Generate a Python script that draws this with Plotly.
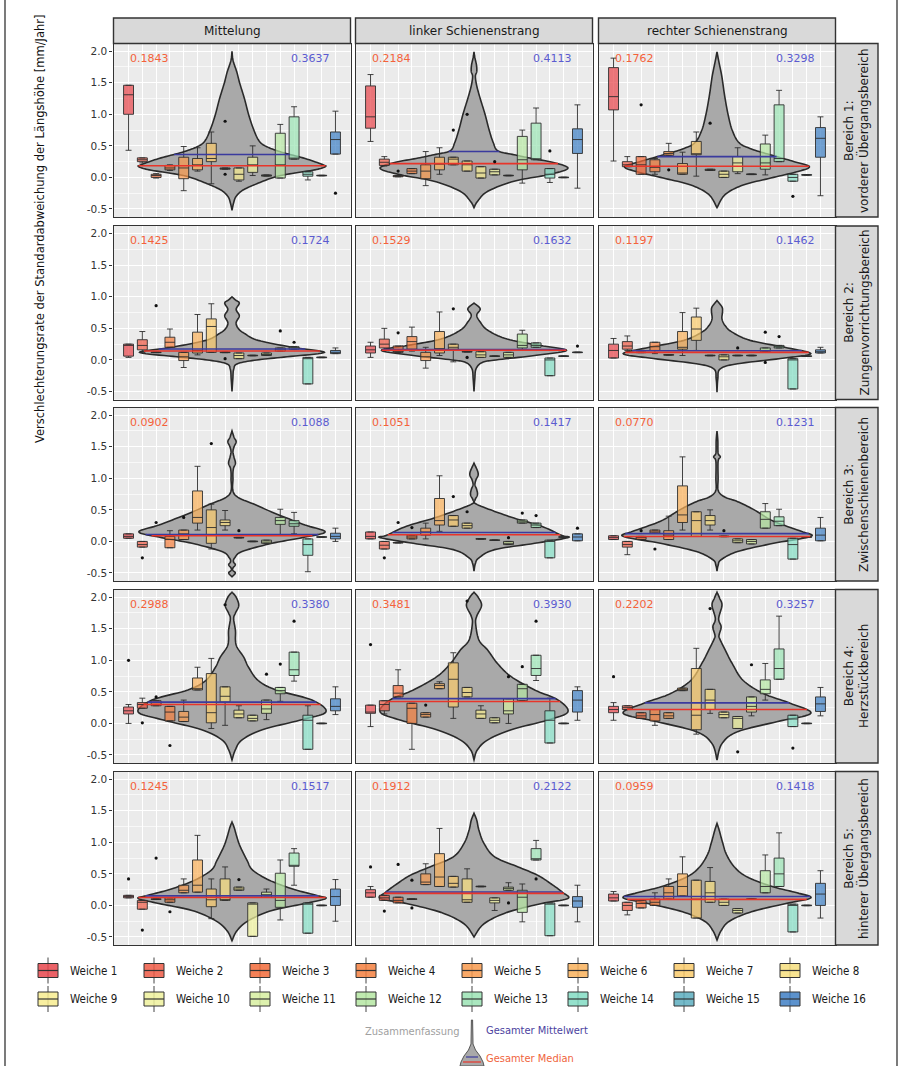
import numpy as np
import plotly.graph_objects as go

FIG_W, FIG_H = 904, 1066

SPALTEN = ["Mittelung", "linker Schienenstrang", "rechter Schienenstrang"]
BEREICHE = [
    ("Bereich 1:", "vorderer Übergangsbereich"),
    ("Bereich 2:", "Zungenvorrichtungsbereich"),
    ("Bereich 3:", "Zwischenschienenbereich"),
    ("Bereich 4:", "Herzstückbereich"),
    ("Bereich 5:", "hinterer Übergangsbereich"),
]
WEICHEN = [f"Weiche {i}" for i in range(1, 17)]
FARBEN = [
    "#E8474C", "#EE5A45", "#F26B3A", "#F4803F", "#F89A4E", "#F9B25C",
    "#FACB6C", "#F6DE7E", "#F7EC8F", "#EEF19C", "#D7EEA0", "#B5E6A2",
    "#9BE3B4", "#83DCC3", "#5DAEBF", "#3F7FC4",
]

# Gesamter Median / Gesamter Mittelwert je Bereich (Zeile) und Spalte
MEDIAN_GESAMT = [
    [0.1843, 0.2184, 0.1762],
    [0.1425, 0.1529, 0.1197],
    [0.0902, 0.1051, 0.0770],
    [0.2988, 0.3481, 0.2202],
    [0.1245, 0.1912, 0.0959],
]
MITTEL_GESAMT = [
    [0.3637, 0.4113, 0.3298],
    [0.1724, 0.1632, 0.1462],
    [0.1088, 0.1417, 0.1231],
    [0.3380, 0.3930, 0.3257],
    [0.1517, 0.2122, 0.1418],
]

# Boxplot-Kennwerte je Weiche: (unterer Whisker, Q1, Median, Q3, oberer Whisker)
B1_MIT = [
    (0.43, 1.00, 1.31, 1.46, 1.46), (0.23, 0.25, 0.28, 0.31, 0.31),
    (-0.01, 0.00, 0.03, 0.05, 0.06), (0.11, 0.12, 0.15, 0.19, 0.20),
    (-0.21, -0.02, 0.15, 0.32, 0.49), (0.10, 0.12, 0.20, 0.30, 0.47),
    (-0.10, 0.25, 0.30, 0.54, 0.72), (0.13, 0.13, 0.14, 0.15, 0.15),
    (-0.06, -0.04, 0.05, 0.15, 0.15), (0.03, 0.08, 0.20, 0.32, 0.50),
    (0.02, 0.02, 0.03, 0.04, 0.04), (-0.01, -0.01, 0.20, 0.70, 0.84),
    (0.29, 0.29, 0.30, 0.96, 1.12), (-0.04, 0.02, 0.05, 0.09, 0.09),
    (0.025, 0.025, 0.03, 0.035, 0.035), (0.37, 0.37, 0.60, 0.72, 1.05),
]
B1_LINKS = [
    (0.57, 0.78, 0.96, 1.45, 1.63), (0.18, 0.19, 0.24, 0.29, 0.33),
    (0.01, 0.01, 0.02, 0.03, 0.03), (0.06, 0.06, 0.10, 0.14, 0.14),
    (-0.13, -0.02, 0.10, 0.20, 0.41), (0.05, 0.12, 0.21, 0.32, 0.47),
    (0.20, 0.20, 0.29, 0.32, 0.32), (0.10, 0.10, 0.20, 0.26, 0.26),
    (-0.01, -0.01, 0.07, 0.17, 0.17), (0.04, 0.04, 0.09, 0.13, 0.13),
    (0.025, 0.025, 0.03, 0.035, 0.035), (-0.09, 0.12, 0.28, 0.65, 0.75),
    (0.28, 0.28, 0.29, 0.86, 1.10), (-0.08, -0.01, 0.05, 0.14, 0.14),
    (-0.005, -0.005, 0.0, 0.005, 0.005), (-0.17, 0.38, 0.60, 0.77, 1.15),
]
B1_RECHTS = [
    (0.26, 1.07, 1.28, 1.74, 1.89), (0.17, 0.17, 0.20, 0.25, 0.33),
    (0.05, 0.05, 0.20, 0.33, 0.33), (0.05, 0.09, 0.16, 0.28, 0.30),
    (0.35, 0.35, 0.38, 0.41, 0.54), (0.05, 0.05, 0.07, 0.22, 0.40),
    (0.02, 0.36, 0.36, 0.57, 0.72), (0.11, 0.11, 0.12, 0.13, 0.13),
    (0.0, 0.0, 0.05, 0.10, 0.10), (0.06, 0.09, 0.23, 0.33, 0.47),
    (0.045, 0.045, 0.05, 0.055, 0.055), (0.04, 0.13, 0.23, 0.53, 0.67),
    (0.25, 0.25, 0.30, 1.15, 1.38), (-0.06, -0.06, 0.0, 0.05, 0.05),
    (0.035, 0.035, 0.04, 0.045, 0.045), (-0.29, 0.32, 0.62, 0.79, 0.96),
]
B2_MIT = [
    (0.04, 0.06, 0.23, 0.25, 0.25), (0.12, 0.16, 0.23, 0.32, 0.45),
    (0.115, 0.115, 0.12, 0.125, 0.125), (0.20, 0.20, 0.28, 0.36, 0.49),
    (-0.12, -0.01, 0.05, 0.12, 0.12), (0.08, 0.11, 0.15, 0.44, 0.72),
    (0.12, 0.12, 0.53, 0.65, 0.89), (0.115, 0.115, 0.12, 0.125, 0.125),
    (0.02, 0.02, 0.07, 0.11, 0.11), (0.065, 0.065, 0.07, 0.075, 0.075),
    (0.07, 0.07, 0.08, 0.11, 0.11), (0.14, 0.14, 0.17, 0.19, 0.19),
    (0.17, 0.17, 0.20, 0.21, 0.21), (-0.38, -0.38, 0.02, 0.04, 0.04),
    (0.035, 0.035, 0.04, 0.045, 0.045), (0.10, 0.10, 0.12, 0.15, 0.19),
]
B2_LINKS = [
    (0.04, 0.11, 0.16, 0.22, 0.28), (0.16, 0.19, 0.25, 0.33, 0.50),
    (0.12, 0.12, 0.13, 0.22, 0.22), (0.14, 0.17, 0.29, 0.37, 0.52),
    (-0.13, -0.01, 0.05, 0.12, 0.20), (0.07, 0.11, 0.18, 0.45, 0.76),
    (-0.03, 0.17, 0.20, 0.25, 0.25), (0.125, 0.125, 0.13, 0.135, 0.135),
    (0.04, 0.04, 0.08, 0.13, 0.13), (0.055, 0.055, 0.06, 0.065, 0.065),
    (0.04, 0.04, 0.08, 0.12, 0.12), (0.15, 0.19, 0.23, 0.41, 0.47),
    (0.20, 0.20, 0.23, 0.27, 0.27), (-0.25, -0.25, 0.0, 0.03, 0.03),
    (0.055, 0.055, 0.06, 0.065, 0.065), (0.115, 0.115, 0.12, 0.125, 0.125),
]
B2_RECHTS = [
    (0.03, 0.03, 0.15, 0.25, 0.34), (0.15, 0.17, 0.22, 0.29, 0.38),
    (0.115, 0.115, 0.12, 0.125, 0.125), (0.10, 0.15, 0.21, 0.28, 0.28),
    (0.075, 0.075, 0.08, 0.085, 0.085), (0.07, 0.17, 0.20, 0.45, 0.75),
    (0.15, 0.31, 0.49, 0.68, 0.82), (0.065, 0.065, 0.07, 0.075, 0.075),
    (0.0, 0.0, 0.05, 0.08, 0.08), (0.065, 0.065, 0.07, 0.075, 0.075),
    (0.065, 0.065, 0.07, 0.075, 0.075), (0.13, 0.13, 0.15, 0.19, 0.19),
    (0.19, 0.19, 0.21, 0.23, 0.23), (-0.46, -0.46, 0.0, 0.02, 0.02),
    (0.055, 0.055, 0.06, 0.065, 0.065), (0.11, 0.11, 0.13, 0.16, 0.20),
]
B3_MIT = [
    (0.05, 0.05, 0.08, 0.12, 0.12), (-0.09, -0.09, -0.05, 0.0, 0.0),
    (0.095, 0.095, 0.10, 0.105, 0.105), (-0.10, -0.10, 0.03, 0.08, 0.17),
    (0.03, 0.03, 0.12, 0.18, 0.18), (0.18, 0.29, 0.38, 0.80, 1.19),
    (-0.12, -0.03, 0.22, 0.50, 0.59), (0.18, 0.25, 0.30, 0.34, 0.49),
    (0.055, 0.055, 0.06, 0.065, 0.065), (-0.005, -0.005, 0.0, 0.005, 0.005),
    (-0.03, -0.03, -0.01, 0.02, 0.02), (0.10, 0.27, 0.33, 0.38, 0.51),
    (0.12, 0.24, 0.28, 0.33, 0.46), (-0.48, -0.22, -0.05, 0.04, 0.04),
    (0.065, 0.065, 0.07, 0.075, 0.075), (0.0, 0.04, 0.08, 0.13, 0.21),
]
B3_LINKS = [
    (0.04, 0.04, 0.08, 0.15, 0.15), (-0.12, -0.12, -0.06, 0.0, 0.0),
    (-0.025, -0.025, -0.02, -0.015, -0.015), (0.04, 0.04, 0.07, 0.10, 0.10),
    (0.04, 0.10, 0.15, 0.21, 0.29), (0.16, 0.26, 0.33, 0.68, 1.04),
    (0.24, 0.24, 0.34, 0.41, 0.41), (0.21, 0.21, 0.25, 0.29, 0.29),
    (0.035, 0.035, 0.04, 0.045, 0.045), (0.015, 0.015, 0.02, 0.025, 0.025),
    (-0.05, -0.05, -0.03, 0.0, 0.0), (0.29, 0.29, 0.31, 0.34, 0.34),
    (0.22, 0.22, 0.26, 0.29, 0.29), (-0.26, -0.26, 0.0, 0.02, 0.02),
    (0.065, 0.065, 0.07, 0.075, 0.075), (0.01, 0.01, 0.07, 0.12, 0.12),
]
B3_RECHTS = [
    (0.03, 0.03, 0.06, 0.09, 0.09), (-0.21, -0.09, -0.05, 0.0, 0.0),
    (0.03, 0.03, 0.06, 0.08, 0.08), (0.13, 0.13, 0.15, 0.18, 0.18),
    (0.03, 0.03, 0.10, 0.17, 0.40), (0.18, 0.30, 0.42, 0.88, 1.34),
    (0.08, 0.08, 0.33, 0.47, 0.47), (0.18, 0.26, 0.33, 0.41, 0.50),
    (0.075, 0.075, 0.08, 0.085, 0.085), (-0.02, -0.02, 0.01, 0.04, 0.04),
    (-0.04, -0.04, 0.0, 0.03, 0.03), (0.21, 0.21, 0.35, 0.47, 0.60),
    (0.25, 0.25, 0.32, 0.39, 0.51), (-0.28, -0.28, -0.05, 0.05, 0.05),
    (0.065, 0.065, 0.07, 0.075, 0.075), (0.01, 0.01, 0.10, 0.21, 0.38),
]
B4_MIT = [
    (0.0, 0.15, 0.20, 0.26, 0.30), (0.24, 0.24, 0.30, 0.33, 0.40),
    (0.28, 0.28, 0.33, 0.36, 0.36), (0.04, 0.04, 0.18, 0.27, 0.27),
    (0.03, 0.03, 0.10, 0.19, 0.37), (0.53, 0.53, 0.55, 0.72, 0.89),
    (-0.08, 0.01, 0.17, 0.79, 1.03), (-0.03, 0.34, 0.43, 0.58, 0.58),
    (0.09, 0.09, 0.15, 0.21, 0.28), (0.04, 0.04, 0.08, 0.13, 0.13),
    (0.06, 0.16, 0.23, 0.37, 0.37), (0.35, 0.47, 0.52, 0.57, 0.57),
    (0.67, 0.76, 0.85, 1.13, 1.13), (-0.41, -0.41, 0.05, 0.13, 0.28),
    (-0.005, -0.005, 0.0, 0.005, 0.005), (0.14, 0.20, 0.27, 0.39, 0.58),
]
B4_LINKS = [
    (-0.05, 0.16, 0.18, 0.29, 0.29), (0.15, 0.20, 0.30, 0.36, 0.36),
    (0.42, 0.42, 0.48, 0.60, 0.85), (-0.41, 0.0, 0.24, 0.32, 0.32),
    (0.10, 0.10, 0.14, 0.17, 0.17), (0.55, 0.55, 0.60, 0.63, 0.66),
    (0.08, 0.26, 0.70, 0.96, 1.12), (0.42, 0.42, 0.49, 0.57, 0.57),
    (0.08, 0.08, 0.15, 0.21, 0.28), (0.01, 0.01, 0.05, 0.09, 0.09),
    (0.0, 0.15, 0.20, 0.39, 0.39), (0.36, 0.36, 0.55, 0.62, 0.62),
    (0.68, 0.76, 0.87, 1.08, 1.08), (-0.31, -0.31, 0.05, 0.20, 0.40),
    (-0.005, -0.005, 0.0, 0.005, 0.005), (0.05, 0.18, 0.37, 0.52, 0.58),
]
B4_RECHTS = [
    (0.05, 0.17, 0.22, 0.27, 0.33), (0.22, 0.22, 0.25, 0.28, 0.28),
    (0.08, 0.08, 0.12, 0.17, 0.17), (-0.03, 0.04, 0.14, 0.22, 0.22),
    (0.08, 0.08, 0.12, 0.17, 0.17), (0.52, 0.52, 0.54, 0.56, 0.56),
    (-0.17, -0.10, 0.13, 0.87, 1.19), (0.16, 0.22, 0.37, 0.54, 0.54),
    (0.09, 0.09, 0.14, 0.18, 0.18), (-0.08, -0.08, 0.08, 0.11, 0.11),
    (0.12, 0.18, 0.27, 0.42, 0.42), (0.37, 0.47, 0.54, 0.69, 0.95),
    (0.70, 0.70, 0.87, 1.18, 1.70), (-0.05, -0.05, 0.07, 0.13, 0.13),
    (-0.005, -0.005, 0.0, 0.005, 0.005), (0.12, 0.19, 0.31, 0.42, 0.57),
]
B5_MIT = [
    (0.12, 0.12, 0.14, 0.16, 0.16), (-0.06, -0.06, 0.05, 0.08, 0.08),
    (0.095, 0.095, 0.10, 0.105, 0.105), (0.05, 0.05, 0.09, 0.12, 0.12),
    (0.20, 0.20, 0.24, 0.32, 0.42), (0.21, 0.21, 0.32, 0.72, 1.11),
    (-0.21, -0.02, 0.09, 0.26, 0.42), (0.08, 0.08, 0.09, 0.42, 0.61),
    (0.24, 0.24, 0.26, 0.29, 0.29), (-0.49, -0.49, 0.02, 0.04, 0.04),
    (0.13, 0.13, 0.17, 0.21, 0.26), (-0.23, -0.03, 0.08, 0.51, 0.72),
    (0.32, 0.62, 0.63, 0.83, 0.90), (-0.44, -0.44, 0.02, 0.04, 0.04),
    (-0.005, -0.005, 0.0, 0.005, 0.005), (-0.25, 0.0, 0.14, 0.26, 0.41),
]
B5_LINKS = [
    (0.13, 0.13, 0.20, 0.25, 0.30), (0.08, 0.08, 0.12, 0.16, 0.16),
    (0.04, 0.04, 0.08, 0.13, 0.13), (0.095, 0.095, 0.10, 0.105, 0.105),
    (0.33, 0.33, 0.37, 0.50, 0.66), (0.30, 0.30, 0.45, 0.82, 1.22),
    (0.29, 0.29, 0.35, 0.46, 0.46), (0.05, 0.05, 0.09, 0.42, 0.58),
    (0.295, 0.295, 0.30, 0.305, 0.305), (-0.08, 0.04, 0.08, 0.12, 0.12),
    (0.24, 0.24, 0.27, 0.29, 0.36), (-0.26, -0.11, 0.13, 0.24, 0.34),
    (0.72, 0.72, 0.74, 0.90, 1.03), (-0.48, -0.48, 0.02, 0.04, 0.04),
    (-0.005, -0.005, 0.0, 0.005, 0.005), (-0.26, -0.03, 0.07, 0.14, 0.32),
]
B5_RECHTS = [
    (0.07, 0.07, 0.12, 0.18, 0.22), (-0.15, -0.08, 0.0, 0.05, 0.05),
    (-0.04, -0.04, 0.03, 0.08, 0.08), (0.0, 0.0, 0.05, 0.10, 0.20),
    (0.10, 0.10, 0.20, 0.30, 0.42), (0.15, 0.15, 0.30, 0.50, 0.77),
    (-0.20, -0.20, 0.10, 0.40, 0.40), (0.05, 0.05, 0.20, 0.38, 0.60),
    (0.0, 0.0, 0.05, 0.10, 0.10), (-0.12, -0.12, -0.08, -0.05, -0.05),
    (0.095, 0.095, 0.10, 0.105, 0.105), (0.20, 0.20, 0.30, 0.55, 0.80),
    (0.30, 0.30, 0.50, 0.75, 1.15), (-0.42, -0.42, 0.0, 0.02, 0.02),
    (-0.005, -0.005, 0.0, 0.005, 0.005), (-0.20, 0.0, 0.18, 0.35, 0.55),
]

# Ausreißer: (Weiche, Wert)
A1_MIT = [(8, 0.89), (8, 0.05), (16, -0.25)]
A1_LINKS = [(3, 0.10), (7, 0.75), (8, 1.00), (10, 0.25), (14, 0.42)]
A1_RECHTS = [(3, 1.15), (5, 0.12), (8, 0.86), (14, -0.30)]
A2_MIT = [(3, 0.86), (8, 0.02), (12, 0.46), (13, 0.28)]
A2_LINKS = [(3, 0.43), (7, 0.81), (8, 0.04), (16, 0.22)]
A2_RECHTS = [(10, 0.19), (12, 0.44), (12, -0.04), (13, 0.37)]
A3_MIT = [(2, -0.26), (3, 0.30), (5, 0.38), (7, 1.55), (9, 0.17)]
A3_LINKS = [(2, -0.26), (3, 0.30), (4, 0.22), (7, 0.71), (8, 0.47),
            (11, 0.06), (12, 0.45), (13, 0.41), (16, 0.21)]
A3_RECHTS = [(3, 0.17), (4, -0.12), (9, 0.17)]
A4_MIT = [(1, 1.0), (2, 0.01), (3, 0.42), (4, -0.35), (8, 1.88),
          (11, 0.78), (12, 0.94), (13, 1.62)]
A4_LINKS = [(1, 1.25), (5, 0.29), (8, 1.94), (11, 0.74), (12, 0.90), (13, 1.62)]
A4_RECHTS = [(1, 0.74), (8, 1.82), (10, -0.45), (11, 0.93), (14, -0.39)]
A5_MIT = [(1, 0.42), (2, -0.39), (3, 0.75), (4, -0.10), (9, 0.41)]
A5_LINKS = [(1, 0.61), (2, -0.09), (3, 0.65), (4, 0.40), (4, -0.04),
            (11, 0.04), (13, 0.42)]
A5_RECHTS = []

# Zusammenfassung (Violine): (Wert, halbe Breite in Weichen-Einheiten)
V1_MIT = [(2.0, 0), (1.85, 0.08), (1.67, 0.35), (1.5, 0.55), (1.25, 0.9),
          (1.0, 1.2), (0.8, 1.5), (0.6, 1.9), (0.5, 2.4), (0.4, 3.6),
          (0.3, 5.3), (0.2, 6.6), (0.17, 6.75), (0.12, 6.0), (0.05, 4.0),
          (0.0, 3.0), (-0.1, 1.8), (-0.2, 0.8), (-0.3, 0.3), (-0.4, 0.12),
          (-0.52, 0)]
V1_LINKS = [(1.99, 0), (1.9, 0.06), (1.78, 0.18), (1.68, 0.2), (1.6, 0.1),
            (1.45, 0.2), (1.25, 0.45), (1.0, 0.8), (0.75, 1.1), (0.55, 1.4),
            (0.42, 1.75), (0.36, 2.9), (0.3, 4.2), (0.23, 5.9), (0.14, 6.8),
            (0.04, 5.3), (-0.06, 2.9), (-0.22, 1.0), (-0.38, 0.25), (-0.48, 0)]
V1_RECHTS = [(1.99, 0), (1.85, 0.12), (1.6, 0.35), (1.3, 0.55), (1.0, 0.8),
             (0.75, 1.1), (0.55, 1.6), (0.45, 2.5), (0.35, 4.0), (0.25, 5.6),
             (0.17, 6.7), (0.09, 5.8), (-0.01, 3.9), (-0.12, 1.9),
             (-0.27, 0.6), (-0.48, 0)]
V2_MIT = [(1.0, 0), (0.95, 0.25), (0.9, 0.53), (0.8, 0.3), (0.7, 0.53),
          (0.59, 0.3), (0.5, 0.45), (0.42, 0.9), (0.31, 1.9), (0.2, 4.4),
          (0.12, 6.7), (0.05, 4.0), (0.0, 1.8), (-0.06, 0.4), (-0.15, 0.12),
          (-0.3, 0.06), (-0.5, 0)]
V2_LINKS = [(0.9, 0), (0.81, 0.45), (0.71, 0.2), (0.6, 0.45), (0.47, 1.0),
            (0.33, 2.4), (0.23, 4.8), (0.15, 6.7), (0.07, 4.4), (0.0, 1.6),
            (-0.04, 0.6), (-0.14, 0.15), (-0.3, 0.06), (-0.5, 0)]
V2_RECHTS = [(0.94, 0), (0.84, 0.36), (0.76, 0.4), (0.65, 0.36), (0.54, 0.6),
             (0.44, 1.1), (0.31, 2.4), (0.2, 4.9), (0.1, 6.8), (0.03, 4.9),
             (-0.06, 1.5), (-0.14, 0.24), (-0.3, 0.06), (-0.51, 0)]
V3_MIT = [(1.75, 0), (1.65, 0.15), (1.58, 0.3), (1.5, 0.15), (1.42, 0.07),
          (1.33, 0.15), (1.24, 0.25), (1.15, 0.1), (1.0, 0.07), (0.74, 0.2),
          (0.58, 1.7), (0.42, 3.4), (0.26, 5.3), (0.15, 6.75), (0.06, 5.1),
          (-0.03, 2.9), (-0.16, 0.73), (-0.26, 0.2), (-0.32, 0.1),
          (-0.37, 0.24), (-0.42, 0.07), (-0.46, 0.07), (-0.5, 0.24),
          (-0.56, 0)]
V3_LINKS = [(1.24, 0), (1.12, 0.25), (1.05, 0.3), (0.98, 0.15), (0.9, 0.07),
            (0.82, 0.2), (0.74, 0.25), (0.66, 0.08), (0.6, 0.1), (0.5, 1.2),
            (0.37, 2.9), (0.24, 4.9), (0.1, 6.3), (0.06, 6.8), (-0.03, 4.4),
            (-0.13, 1.5), (-0.26, 0.36), (-0.35, 0.1), (-0.47, 0)]
V3_RECHTS = [(1.75, 0), (1.6, 0.06), (1.4, 0.08), (1.34, 0.24), (1.27, 0.08),
             (1.0, 0.08), (0.8, 0.1), (0.7, 0.6), (0.63, 1.5), (0.5, 2.7),
             (0.32, 4.1), (0.16, 6.1), (0.08, 6.8), (-0.03, 4.1),
             (-0.16, 1.5), (-0.29, 0.3), (-0.38, 0.08), (-0.47, 0)]
V4_MIT = [(2.08, 0), (2.0, 0.3), (1.87, 0.49), (1.75, 0.25), (1.66, 0.12),
          (1.47, 0.25), (1.32, 0.25), (1.21, 0.36), (1.05, 0.85), (0.89, 1.2),
          (0.68, 1.9), (0.53, 3.2), (0.37, 5.8), (0.18, 6.8), (0.05, 4.9),
          (-0.1, 2.2), (-0.26, 0.73), (-0.42, 0.24), (-0.58, 0)]
V4_LINKS = [(2.08, 0), (2.0, 0.3), (1.87, 0.55), (1.7, 0.2), (1.58, 0.12),
            (1.32, 0.36), (1.16, 1.0), (0.95, 1.7), (0.74, 2.7), (0.53, 4.4),
            (0.37, 6.1), (0.18, 6.8), (0.05, 5.3), (-0.1, 2.7), (-0.26, 1.0),
            (-0.42, 0.24), (-0.58, 0)]
V4_RECHTS = [(2.08, 0), (1.98, 0.2), (1.87, 0.36), (1.66, 0.12), (1.53, 0.3),
             (1.4, 0.15), (1.34, 0.2), (1.16, 0.6), (0.95, 1.1), (0.68, 1.9),
             (0.47, 3.4), (0.32, 5.3), (0.16, 6.8), (0.03, 4.4), (-0.13, 1.5),
             (-0.32, 0.36), (-0.58, 0)]
V5_MIT = [(1.32, 0), (1.24, 0.15), (1.08, 0.36), (0.93, 0.6), (0.71, 1.1),
          (0.56, 1.5), (0.4, 2.7), (0.26, 4.4), (0.16, 6.1), (0.11, 6.8),
          (0.03, 5.3), (-0.08, 2.9), (-0.24, 1.2), (-0.4, 0.36), (-0.56, 0)]
V5_LINKS = [(1.46, 0), (1.35, 0.2), (1.19, 0.36), (0.98, 0.73), (0.77, 1.5),
            (0.61, 3.2), (0.48, 4.6), (0.34, 5.6), (0.21, 6.4), (0.11, 6.8),
            (0.03, 4.9), (-0.11, 2.4), (-0.29, 0.73), (-0.5, 0)]
V5_RECHTS = [(1.3, 0), (1.2, 0.15), (1.0, 0.4), (0.8, 0.7), (0.6, 1.3),
             (0.45, 2.2), (0.3, 4.0), (0.2, 5.8), (0.12, 6.8), (0.03, 5.0),
             (-0.1, 2.5), (-0.25, 0.9), (-0.4, 0.3), (-0.55, 0)]

BOXEN = [[B1_MIT, B1_LINKS, B1_RECHTS], [B2_MIT, B2_LINKS, B2_RECHTS],
         [B3_MIT, B3_LINKS, B3_RECHTS], [B4_MIT, B4_LINKS, B4_RECHTS],
         [B5_MIT, B5_LINKS, B5_RECHTS]]
AUSREISSER = [[A1_MIT, A1_LINKS, A1_RECHTS], [A2_MIT, A2_LINKS, A2_RECHTS],
              [A3_MIT, A3_LINKS, A3_RECHTS], [A4_MIT, A4_LINKS, A4_RECHTS],
              [A5_MIT, A5_LINKS, A5_RECHTS]]
VIOLINEN = [[V1_MIT, V1_LINKS, V1_RECHTS], [V2_MIT, V2_LINKS, V2_RECHTS],
            [V3_MIT, V3_LINKS, V3_RECHTS], [V4_MIT, V4_LINKS, V4_RECHTS],
            [V5_MIT, V5_LINKS, V5_RECHTS]]

Y_TICKS = [-0.5, 0.0, 0.5, 1.0, 1.5, 2.0]
Y_RANGE = [-0.627, 2.122]
X_RANGE = [-0.09, 17.09]
X_MITTE = 8.5

# ---- Seitenraster in Pixeln ----
COL_L = [113.5, 355.5, 598.5]
PANEL_W = 237.0
ROW_T = [43.5, 226.0, 407.5, 589.5, 771.5]
PANEL_H = 173.5
STRIP_TOP = (18.0, 43.5)
STRIP_RIGHT = (835.5, 878.0)

FONT = "DejaVu Sans, Verdana, sans-serif"
FONT_COND = "DejaVu Sans Condensed, Liberation Sans Narrow, DejaVu Sans, sans-serif"
ROT = "#E8352A"
BLAU = "#3B3B9E"


def fx(px):
    return px / FIG_W


def fy(py):
    return 1 - py / FIG_H


def rgba(hexcol, a):
    h = hexcol.lstrip("#")
    r, g, b = int(h[0:2], 16), int(h[2:4], 16), int(h[4:6], 16)
    return f"rgba({r},{g},{b},{a})"


def glatt(profil, n=10):
    """Catmull-Rom-Glättung des Violinenumrisses (aufsteigend nach Wert)."""
    pts = sorted(profil, key=lambda p: p[0])
    p = [pts[0]] + pts + [pts[-1]]
    ys, hs = [], []
    for i in range(1, len(p) - 2):
        p0, p1, p2, p3 = p[i - 1], p[i], p[i + 1], p[i + 2]
        for t in np.linspace(0, 1, n, endpoint=False):
            t2, t3 = t * t, t * t * t
            y = 0.5 * (2 * p1[0] + (-p0[0] + p2[0]) * t
                       + (2 * p0[0] - 5 * p1[0] + 4 * p2[0] - p3[0]) * t2
                       + (-p0[0] + 3 * p1[0] - 3 * p2[0] + p3[0]) * t3)
            h = 0.5 * (2 * p1[1] + (-p0[1] + p2[1]) * t
                       + (2 * p0[1] - 5 * p1[1] + 4 * p2[1] - p3[1]) * t2
                       + (-p0[1] + 3 * p1[1] - 3 * p2[1] + p3[1]) * t3)
            ys.append(y)
            hs.append(max(h, 0.0))
    ys.append(pts[-1][0])
    hs.append(pts[-1][1])
    return np.array(ys), np.array(hs)


fig = go.Figure()
layout = dict(
    width=FIG_W, height=FIG_H,
    margin=dict(l=0, r=0, t=0, b=0),
    paper_bgcolor="white", plot_bgcolor="#EBEBEB",
    showlegend=False, boxmode="overlay",
    font=dict(family=FONT, color="#222"),
)
shapes, annotations = [], []

for r in range(5):
    for c in range(3):
        k = r * 3 + c + 1
        xname = "xaxis" if k == 1 else f"xaxis{k}"
        yname = "yaxis" if k == 1 else f"yaxis{k}"
        xref = "x" if k == 1 else f"x{k}"
        yref = "y" if k == 1 else f"y{k}"
        L, T = COL_L[c], ROW_T[r]
        layout[xname] = dict(
            domain=[fx(L), fx(L + PANEL_W)], range=X_RANGE, anchor=yref,
            showticklabels=False, ticks="", zeroline=False,
            tickvals=list(range(1, 17)), showgrid=True,
            gridcolor="white", gridwidth=1.0,
            showline=True, mirror=True, linecolor="#333", linewidth=1.4,
        )
        layout[yname] = dict(
            domain=[fy(T + PANEL_H), fy(T)], range=Y_RANGE, anchor=xref,
            tickvals=Y_TICKS, ticktext=[f"{v:.1f}" for v in Y_TICKS],
            showticklabels=(c == 0), ticks="outside" if c == 0 else "",
            ticklen=3, tickcolor="#333", tickwidth=1,
            tickfont=dict(size=10.5, color="#333", family=FONT),
            zeroline=False, showgrid=True, gridcolor="white", gridwidth=1.2,
            minor=dict(dtick=0.25, showgrid=True, gridcolor="#F8F8F8", gridwidth=0.7),
            showline=True, mirror=True, linecolor="#333", linewidth=1.4,
        )

        # Violine der Zusammenfassung (zwischen Gitter und Boxen)
        vy, vh = glatt(VIOLINEN[r][c])
        xs = np.concatenate([X_MITTE + vh, (X_MITTE - vh)[::-1]])
        ys = np.concatenate([vy, vy[::-1]])
        path = "M" + "L".join(f"{x:.4f},{y:.4f}" for x, y in zip(xs, ys)) + "Z"
        shapes.append(dict(type="path", xref=xref, yref=yref, path=path,
                           fillcolor="#A9A9A9", line=dict(color="#2A2A2A", width=1.6),
                           layer="between"))

        # Boxplots je Weiche
        for i, (lo, q1, med, q3, hi) in enumerate(BOXEN[r][c]):
            fig.add_trace(go.Box(
                x=[i + 1], lowerfence=[lo], q1=[q1], median=[med], q3=[q3],
                upperfence=[hi], width=0.72, whiskerwidth=0.6,
                fillcolor=rgba(FARBEN[i], 0.72),
                line=dict(color="#2E2E2E", width=0.9),
                boxpoints=False, name=WEICHEN[i],
                xaxis=xref, yaxis=yref, hoverinfo="skip",
            ))

        # Gesamter Median und Mittelwert als Linie über die Violinenbreite
        for val, col in ((MITTEL_GESAMT[r][c], BLAU), (MEDIAN_GESAMT[r][c], ROT)):
            hw = float(np.interp(val, vy, vh))
            fig.add_trace(go.Scatter(
                x=[X_MITTE - hw, X_MITTE + hw], y=[val, val], mode="lines",
                line=dict(color=col, width=1.6),
                xaxis=xref, yaxis=yref, hoverinfo="skip",
            ))

        # Ausreißer
        aus = AUSREISSER[r][c]
        if aus:
            fig.add_trace(go.Scatter(
                x=[a[0] for a in aus], y=[a[1] for a in aus], mode="markers",
                marker=dict(color="#111", size=3.2),
                xaxis=xref, yaxis=yref, hoverinfo="skip",
            ))

        annotations.append(dict(
            x=0.95, y=1.885, xref=xref, yref=yref, text=f"{MEDIAN_GESAMT[r][c]:.4f}",
            showarrow=False, xanchor="left", yanchor="middle",
            font=dict(size=11, color="#F4623A", family=FONT),
        ))
        annotations.append(dict(
            x=15.75, y=1.885, xref=xref, yref=yref, text=f"{MITTEL_GESAMT[r][c]:.4f}",
            showarrow=False, xanchor="right", yanchor="middle",
            font=dict(size=11, color="#5B5BD0", family=FONT),
        ))

# Kopfleisten der Spalten
for c, name in enumerate(SPALTEN):
    L = COL_L[c]
    shapes.append(dict(type="rect", xref="paper", yref="paper",
                       x0=fx(L), x1=fx(L + PANEL_W), y0=fy(STRIP_TOP[1]), y1=fy(STRIP_TOP[0]),
                       fillcolor="#D9D9D9", line=dict(color="#333", width=1.4)))
    annotations.append(dict(x=fx(L + PANEL_W / 2), y=fy((STRIP_TOP[0] + STRIP_TOP[1]) / 2),
                            xref="paper", yref="paper", text=name, showarrow=False,
                            xanchor="center", yanchor="middle",
                            font=dict(size=12, color="#1A1A1A", family=FONT)))

# Seitenleisten der Bereiche
for r, (z1, z2) in enumerate(BEREICHE):
    T = ROW_T[r]
    shapes.append(dict(type="rect", xref="paper", yref="paper",
                       x0=fx(STRIP_RIGHT[0]), x1=fx(STRIP_RIGHT[1]),
                       y0=fy(T + PANEL_H), y1=fy(T),
                       fillcolor="#D9D9D9", line=dict(color="#333", width=1.4)))
    annotations.append(dict(x=fx((STRIP_RIGHT[0] + STRIP_RIGHT[1]) / 2), y=fy(T + PANEL_H / 2),
                            xref="paper", yref="paper", text=f"{z1}<br>{z2}",
                            showarrow=False, textangle=-90,
                            xanchor="center", yanchor="middle",
                            font=dict(size=12, color="#1A1A1A", family=FONT)))

# Achsentitel
annotations.append(dict(
    x=fx(40), y=fy(229), xref="paper", yref="paper", textangle=-90, showarrow=False,
    xanchor="center", yanchor="middle",
    text="Verschlechterungsrate der Standardabweichung der Längshöhe [mm/Jahr]",
    font=dict(size=11.5, color="#111", family=FONT),
))

# Legende der Weichen
for j, name in enumerate(WEICHEN):
    rr, cc = divmod(j, 8)
    cx = 48 + cc * 106.0
    cy = 970.5 + rr * 28.5
    shapes.append(dict(type="line", xref="paper", yref="paper",
                       x0=fx(cx), x1=fx(cx), y0=fy(cy - 13), y1=fy(cy + 13),
                       line=dict(color="#444", width=1)))
    shapes.append(dict(type="rect", xref="paper", yref="paper",
                       x0=fx(cx - 10), x1=fx(cx + 10), y0=fy(cy + 7), y1=fy(cy - 7),
                       fillcolor=rgba(FARBEN[j], 0.85), line=dict(color="#333", width=1)))
    shapes.append(dict(type="line", xref="paper", yref="paper",
                       x0=fx(cx - 10), x1=fx(cx + 10), y0=fy(cy), y1=fy(cy),
                       line=dict(color="#333", width=1.2)))
    annotations.append(dict(x=fx(cx + 20), y=fy(cy), xref="paper", yref="paper",
                            text=name, showarrow=False, xanchor="left", yanchor="middle",
                            font=dict(size=11.5, color="#1A1A1A", family=FONT_COND)))

# Legende der Zusammenfassung
icon_y = [1020, 1044, 1050, 1056, 1062, 1066]
icon_hw = [0.6, 1.0, 3.5, 8.0, 11.0, 12.0]
path = "M " + " L ".join(f"{fx(472 + h)},{fy(y)}" for y, h in zip(icon_y, icon_hw))
path += " L " + " L ".join(f"{fx(472 - h)},{fy(y)}" for y, h in zip(icon_y[::-1], icon_hw[::-1])) + " Z"
shapes.append(dict(type="path", xref="paper", yref="paper", path=path,
                   fillcolor="#A9A9A9", line=dict(color="#555", width=1)))
shapes.append(dict(type="line", xref="paper", yref="paper", x0=fx(466), x1=fx(478),
                   y0=fy(1057), y1=fy(1057), line=dict(color=BLAU, width=1.2)))
shapes.append(dict(type="line", xref="paper", yref="paper", x0=fx(463), x1=fx(481),
                   y0=fy(1062), y1=fy(1062), line=dict(color=ROT, width=1.2)))
annotations.append(dict(x=fx(462), y=fy(1031), xref="paper", yref="paper",
                        text="Zusammenfassung", showarrow=False,
                        xanchor="right", yanchor="middle",
                        font=dict(size=11, color="#A0A0A0", family=FONT_COND)))
annotations.append(dict(x=fx(484), y=fy(1030), xref="paper", yref="paper",
                        text="Gesamter Mittelwert", showarrow=False,
                        xanchor="left", yanchor="middle",
                        font=dict(size=11, color="#4B3FA0", family=FONT_COND)))
annotations.append(dict(x=fx(484), y=fy(1058), xref="paper", yref="paper",
                        text="Gesamter Median", showarrow=False,
                        xanchor="left", yanchor="middle",
                        font=dict(size=11, color="#F0643C", family=FONT_COND)))

# Rahmen der Seite
shapes.append(dict(type="line", xref="paper", yref="paper", x0=fx(5), x1=fx(5),
                   y0=0, y1=1, line=dict(color="#222", width=1.2)))
shapes.append(dict(type="line", xref="paper", yref="paper", x0=fx(897), x1=fx(897),
                   y0=0, y1=1, line=dict(color="#222", width=1.2)))

layout["shapes"] = shapes
layout["annotations"] = annotations
fig.update_layout(**layout)
fig.write_html("out.html")
